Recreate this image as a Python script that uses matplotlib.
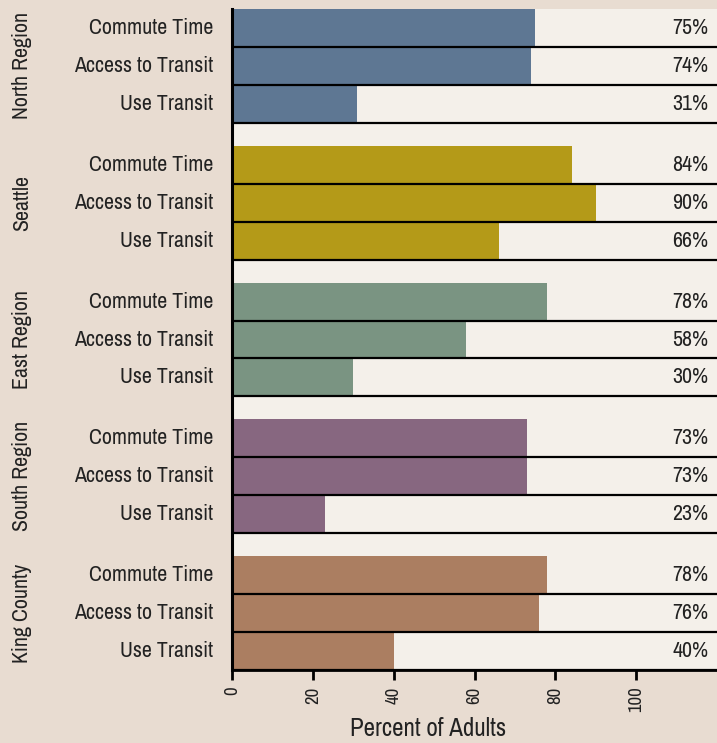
import matplotlib
matplotlib.use("Agg")
import matplotlib.pyplot as plt
from matplotlib import font_manager

regions = ["North Region", "Seattle", "East Region", "South Region", "King County"]
measures = ["Commute Time", "Access to Transit", "Use Transit"]
values = {
    "North Region": [75, 74, 31],
    "Seattle": [84, 90, 66],
    "East Region": [78, 58, 30],
    "South Region": [73, 73, 23],
    "King County": [78, 76, 40],
}
colors = ["#5e7793", "#b49a18", "#7a9482", "#876780", "#ab7e61"]
xticks = [0, 20, 40, 60, 80, 100]

# pick a narrow sans face if one is installed
entries = font_manager.fontManager.ttflist
narrow = [f for f in entries if ("Narrow" in f.name or "Condensed" in f.name)
          and f.weight in (400, "normal", "regular") and f.style == "normal"]
narrow += [f for f in entries if str(f.stretch) in ("condensed", "semi-condensed", "75", "87")
           and f.style == "normal" and f.weight in (400, "normal", "regular")]
if narrow:
    fp_kw = dict(fname=narrow[0].fname)
else:
    fp_kw = dict(family="Roboto")


def fp(size):
    return font_manager.FontProperties(size=size, **fp_kw)


fig_bg = "#e8dcd1"
panel_bg = "#f4f0ea"
ink = "#222222"
W, H = 717, 743
fig = plt.figure(figsize=(W / 100, H / 100), dpi=100, facecolor=fig_bg)
ax = fig.add_axes([232 / W, (H - 670) / H, (W - 232) / W, (670 - 9) / H])
ax.set_facecolor(panel_bg)

gap = 0.605
group_h = 3 + gap
total = 5 * 3 + 4 * gap
row_px = 661 / total
ax.set_xlim(0, 120)
ax.set_ylim(total, 0)

label_size = 15.8
for g, (reg, col) in enumerate(zip(regions, colors)):
    top = g * group_h
    for i, (m, v) in enumerate(zip(measures, values[reg])):
        yc = top + i + 0.5
        ax.barh(yc, v, height=1.0, color=col, edgecolor="none", zorder=2)
        ax.axhline(top + i + 1, color="black", lw=1.6, zorder=3)
        ax.text(-4.6, yc, m, ha="right", va="center", fontproperties=fp(label_size),
                color=ink, clip_on=False)
        ax.text(117.9, yc, f"{v}%", ha="right", va="center",
                fontproperties=fp(label_size), color=ink, zorder=4)
    fig.text(22 / W, 1 - (9 + (top + 1.5) * row_px) / H, reg, rotation=90,
             ha="center", va="center", fontproperties=fp(label_size), color=ink)

ax.set_yticks([])
ax.set_xticks(xticks)
ax.set_xticklabels([str(t) for t in xticks], rotation=90, color=ink,
                   fontproperties=fp(13.5))
ax.tick_params(axis="x", length=7, width=2, color="black", pad=5)
for s in ["top", "right"]:
    ax.spines[s].set_visible(False)
ax.spines["left"].set_linewidth(2.2)
ax.spines["bottom"].set_linewidth(2.0)
ax.spines["left"].set_zorder(5)
ax.spines["bottom"].set_zorder(5)

fig.text(428 / W, 1 - 729 / H, "Percent of Adults", ha="center", va="center",
         fontproperties=fp(18), color=ink)

fig.savefig("out.png", dpi=100, facecolor=fig_bg)
